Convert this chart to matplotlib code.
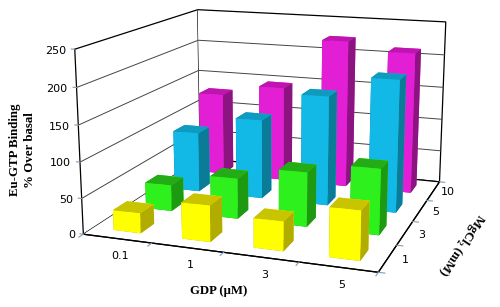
import numpy as np
import matplotlib
matplotlib.use('Agg')
from matplotlib import pyplot as plt
from mpl_toolkits.mplot3d import proj3d

gdp_labels = ['0.1', '1', '3', '5']
mg_labels = ['1', '3', '5', '10']
z_ticks = [0, 50, 100, 150, 200, 250]

# one list per MgCl2 level, in GDP order
yellow_vals = [28, 50, 40, 66]
green_vals = [38, 58, 77, 92]
cyan_vals = [90, 118, 161, 192]
magenta_vals = [128, 146, 224, 212]
all_vals = [yellow_vals, green_vals, cyan_vals, magenta_vals]

# faces in bar3d order: bottom, top, front, back, left, right
yellow_cols = ['#b0ac00', '#c8c400', '#ffff00', '#ffff00', '#b0ac00', '#b0ac00']
green_cols = ['#1e9a12', '#24ac16', '#2ef01c', '#2ef01c', '#1e9a12', '#1e9a12']
cyan_cols = ['#0a7c98', '#0f9ac0', '#12b8e6', '#12b8e6', '#0a7c98', '#0a7c98']
magenta_cols = ['#8b1480', '#c014b0', '#e31fd6', '#e31fd6', '#8b1480', '#8b1480']
all_cols = [yellow_cols, green_cols, cyan_cols, magenta_cols]

W, H = 500, 307
fig = plt.figure(figsize=(W/100, H/100), dpi=100, facecolor='white')
# view box worked out from the corners of the reference cube
ax = fig.add_axes([57.8/W, (H-339.1)/H, 422.8/W, 422.8/H], projection='3d')
ax.patch.set_alpha(0)
ax.view_init(13.885, -70.608)
ax.set_proj_type('persp', focal_length=0.4594)
ax.set_box_aspect((1.6147, 1.5720, 1))
ax.computed_zorder = False

tick_col = '#7f9fb5'
grid_col = '#444444'

# grid on the two back walls and the short tick marks, zorder below the bars
for v in z_ticks[1:-1]:
    ax.plot([0, 0, 4], [0, 4, 4], [v, v, v], color=grid_col, lw=0.7, zorder=1)
for v in z_ticks:
    ax.plot([0, -0.05], [0, 0], [v, v], color=tick_col, lw=0.8, zorder=2)
for i in range(5):
    ax.plot([i, i], [0, -0.12], [0, 0], color=tick_col, lw=0.8, zorder=2)
    ax.plot([4, 4.08], [i, i], [0, 0], color=tick_col, lw=0.8, zorder=2)

bar_w = 0.40
bar_d = 0.42
z = 10
for j in range(3, -1, -1):  # back row first
    for i in range(4):
        ax.bar3d(i + 0.5 - bar_w/2, j + 0.5 - bar_d/2, 0, bar_w, bar_d, all_vals[j][i],
                 color=all_cols[j], shade=False, zorder=z, linewidth=0)
        z += 1

ax.set_xlim(0, 4, view_margin=0)
ax.set_ylim(0, 4, view_margin=0)
ax.set_zlim(0, 250, view_margin=0)

ax.set_xticks([])
ax.set_yticks([])
ax.set_zticks([])
ax.zaxis.set_ticks_position('lower')  # keeps the vertical axis line on the left

for axis in [ax.xaxis, ax.yaxis, ax.zaxis]:
    axis.set_pane_color((1, 1, 1, 1))
    axis.pane.set_edgecolor('black')
    axis.pane.set_linewidth(0.9)
    axis.line.set_color('black')
    axis.line.set_linewidth(0.9)

def put_label(x, y, z, s, **kw):
    # 3d text reports odd extents, so project it and place it as plain 2d text
    u, v, _ = proj3d.proj_transform(x, y, z, ax.get_proj())
    ax.text2D(u, v, s, transform=ax.transData, fontsize=8, va='center', **kw)

for i, lab in enumerate(gdp_labels):
    put_label(i + 0.82 - 0.04*i, -0.55, 0, lab, ha='center')
for j, lab in enumerate(mg_labels):
    put_label(4.22, j + 0.5, 0, lab, ha='center')
for v in z_ticks:
    put_label(-0.13, 0, v - 3, str(v), ha='right')

serif = 'Liberation Serif'
fig.text(22.5/W, 1 - 150/H, 'Eu-GTP Binding\n% Over basal', family=serif, weight='bold', fontsize=9.3,
         rotation=90, ha='center', va='center', ma='center', linespacing=1.38)
fig.text(219/W, 1 - 291/H, 'GDP (\u00b5M)', family=serif, weight='bold', fontsize=9.2, ha='center', va='center')
fig.text(461/W, 1 - 245/H, 'MgCl\u2082 (mM)', family=serif, weight='bold', fontsize=9.3,
         rotation=236, ha='center', va='center', rotation_mode='anchor')

fig.savefig('out.png', dpi=100)
